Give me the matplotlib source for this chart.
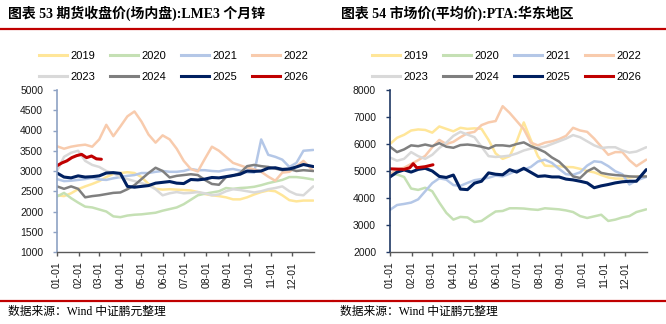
import matplotlib
matplotlib.use("Agg")
import matplotlib.pyplot as plt
from matplotlib.lines import Line2D

# Day-of-year sample points shared by the full-year series
DAYS = list(range(0, 360, 10)) + [364]
MONTH_DAYS = [0, 31, 59, 90, 120, 151, 181, 212, 243, 273, 304, 334]
MONTH_LABELS = ["01-01", "02-01", "03-01", "04-01", "05-01", "06-01",
                "07-01", "08-01", "09-01", "10-01", "11-01", "12-01"]
YEARS = ["2019", "2020", "2021", "2022", "2023", "2024", "2025", "2026"]
COLORS = ["#FFE699", "#C5E0B4", "#B4C7E7", "#F8CBAD",
          "#D9D9D9", "#7F7F7F", "#002060", "#C00000"]
WIDTHS = [1.8, 1.8, 1.8, 1.8, 1.8, 1.8, 2.2, 2.2]

# LME 3-month zinc, USD/t
zinc_2019 = [2400, 2380, 2450, 2550, 2620, 2680, 2750, 2850, 2930, 2950, 2970, 2950,
             2850, 2680, 2560, 2540, 2550, 2540, 2530, 2520, 2480, 2430, 2400, 2380,
             2350, 2300, 2300, 2350, 2420, 2480, 2520, 2500, 2400, 2280, 2250, 2270, 2270]
zinc_2020 = [2370, 2460, 2330, 2220, 2120, 2100, 2050, 2000, 1880, 1860, 1900, 1920,
             1930, 1950, 1970, 2020, 2060, 2100, 2180, 2290, 2400, 2440, 2470, 2500,
             2580, 2560, 2580, 2590, 2610, 2650, 2700, 2740, 2780, 2850, 2850, 2830, 2790]
zinc_2021 = [2800, 2750, 2760, 2780, 2800, 2830, 2790, 2780, 2820, 2850, 2880, 2900,
             2950, 2950, 2980, 3000, 2980, 2980, 3000, 3050, 3020, 3020, 3000, 2990,
             3030, 3050, 3010, 2970, 2960, 3780, 3400, 3350, 3280, 3100, 3200, 3500, 3520]
zinc_2022 = [3610, 3550, 3600, 3630, 3650, 3600, 3780, 4140, 3860, 4100, 4350, 4470,
             4220, 3900, 3700, 3880, 3780, 3550, 3250, 3050, 2990, 3300, 3600, 3500,
             3350, 3200, 3140, 3080, 3040, 2980, 2860, 2760, 2960, 2980, 3110, 3250, 3000]
zinc_2023 = [3000, 3350, 3450, 3500, 3250, 3150, 3100, 3000, 2950, 2850, 2800, 2750,
             2700, 2650, 2550, 2400, 2450, 2480, 2450, 2460, 2480, 2450, 2400, 2420,
             2500, 2550, 2530, 2500, 2470, 2500, 2550, 2580, 2620, 2500, 2420, 2400, 2620]
zinc_2024 = [2620, 2560, 2620, 2560, 2350, 2380, 2400, 2430, 2460, 2470, 2550, 2650,
             2800, 2950, 3080, 3000, 2840, 2880, 2900, 2920, 2900, 2780, 2680, 2660,
             2850, 2880, 2950, 3120, 3150, 3120, 3100, 3060, 3020, 3050, 3000, 3020, 3000]
zinc_2025 = [2950, 2850, 2830, 2880, 2850, 2860, 2880, 2950, 2960, 2940, 2620, 2600,
             2620, 2640, 2700, 2720, 2740, 2700, 2690, 2790, 2780, 2800, 2840, 2830,
             2860, 2890, 2920, 3000, 2990, 3000, 3070, 3080, 3040, 3050, 3100, 3160, 3110]
zinc_2026_days = [0, 7, 14, 21, 28, 35, 42, 49, 56, 63]
zinc_2026 = [3130, 3200, 3250, 3330, 3380, 3410, 3330, 3370, 3300, 3290]

# PTA average market price, East China, CNY/t
pta_2019 = [6000, 6230, 6340, 6500, 6540, 6520, 6420, 6650, 6560, 6470, 6600, 6560,
            6580, 6560, 6150, 5650, 5450, 5550, 6100, 6800, 6150, 5550, 5200, 5180,
            5180, 5150, 5140, 5080, 5000, 4950, 4850, 4760, 4720, 4720, 4760, 4790, 4800]
pta_2020 = [4900, 4870, 4780, 4350, 4300, 4380, 4250, 3830, 3450, 3200, 3300, 3280,
            3110, 3150, 3330, 3500, 3520, 3620, 3620, 3610, 3580, 3560, 3620, 3600,
            3580, 3540, 3480, 3330, 3260, 3320, 3380, 3150, 3200, 3280, 3330, 3480, 3580]
pta_2021 = [3560, 3740, 3780, 3830, 3950, 4250, 4550, 4730, 4680, 4480, 4450, 4560,
            4660, 4700, 4750, 4830, 4800, 4900, 5030, 5050, 5150, 5350, 5420, 5300,
            5080, 4880, 4860, 4950, 5200, 5360, 5330, 5180, 4990, 4880, 4500, 4650, 4780]
pta_2022 = [4880, 5050, 5120, 5260, 5400, 5560, 5880, 6150, 6000, 6080, 6250, 6400,
            6450, 6700, 6800, 6850, 7400, 7150, 6850, 6550, 6050, 5950, 6050, 6100,
            6180, 6300, 6600, 6500, 6450, 6200, 5900, 5600, 5700, 5700, 5400, 5180, 5420]
pta_2023 = [5500, 5380, 5450, 5700, 5550, 5450, 5600, 5850, 6050, 6300, 6450, 6350,
            6250, 5900, 5550, 5520, 5540, 5570, 5650, 5760, 5830, 5860, 5900, 6000,
            6100, 6200, 6330, 6250, 6100, 5950, 5850, 5880, 5880, 5760, 5680, 5720, 5880]
pta_2024 = [5900, 5700, 5800, 5950, 5920, 5980, 5920, 6030, 5900, 5860, 5960, 5980,
            5950, 5900, 5830, 5950, 5950, 5920, 6000, 6060, 5920, 5820, 5700, 5500,
            5350, 5100, 4800, 4740, 4990, 5120, 4930, 4880, 4850, 4830, 4800, 4790, 4800]
pta_2025 = [4780, 4960, 5040, 4960, 5060, 5100, 5000, 4800, 4760, 4850, 4330, 4310,
            4550, 4620, 4930, 4880, 4860, 5050, 4960, 5100, 4950, 4800, 4820, 4780,
            4780, 4700, 4670, 4620, 4560, 4380, 4450, 4500, 4560, 4600, 4620, 4620, 5050]
pta_2026_days = [0, 10, 20, 28, 33, 38, 50, 61]
pta_2026 = [5080, 5070, 5060, 5120, 5270, 5120, 5160, 5230]

W, H = 666, 324
TICK_FONT = "Liberation Sans"
TITLE_FONT = ["Liberation Serif", "Noto Sans CJK SC"]
RED = "#C00000"

fig = plt.figure(figsize=(W / 100, H / 100), dpi=100)


def fx(px):
    return px / W


def fy(py):
    return 1 - py / H


def panel(x_left, series, last_days, ylim, ystep, title, spine_color, legend_x):
    ax = fig.add_axes([fx(x_left), fy(252), fx(257), 162 / H])
    for i, (year, vals) in enumerate(zip(YEARS, series)):
        days = last_days if year == "2026" else DAYS
        ax.plot(days, vals, color=COLORS[i], lw=WIDTHS[i], label=year,
                solid_joinstyle="round", solid_capstyle="round")
    ax.set_xlim(0, 365)
    ax.set_ylim(*ylim)
    ax.set_yticks(list(range(ylim[0], ylim[1] + 1, ystep)))
    ax.set_xticks(MONTH_DAYS)
    ax.set_xticklabels(MONTH_LABELS, rotation=90)
    for side in ("top", "right"):
        ax.spines[side].set_visible(False)
    ax.spines["left"].set_color(spine_color)
    ax.spines["left"].set_linewidth(1.2)
    ax.spines["bottom"].set_color("#595959")
    ax.spines["bottom"].set_linewidth(1.0)
    ax.tick_params(axis="y", direction="out", length=3, width=1, pad=7,
                   colors=spine_color, labelcolor="#1a1a1a", labelsize=7.5)
    ax.tick_params(axis="x", direction="out", length=3, width=1, pad=4,
                   colors="#595959", labelcolor="#1a1a1a", labelsize=7.5)
    for lab in ax.get_xticklabels() + ax.get_yticklabels():
        lab.set_fontfamily(TICK_FONT)

    # legend fills column by column; order entries so rows read 2019..2022, 2023..2026
    order = [0, 4, 1, 5, 2, 6, 3, 7]
    handles = [Line2D([], [], color=COLORS[k], lw=2.2) for k in order]
    labels = [YEARS[k] for k in order]
    fig.legend(handles, labels, loc="upper left",
               bbox_to_anchor=(fx(legend_x), fy(51)), ncol=4, frameon=False,
               prop={"family": TICK_FONT, "size": 8}, borderpad=0,
               handlelength=2.5, handletextpad=0.3, columnspacing=1.35,
               labelspacing=0.95, borderaxespad=0)

    fig.text(fx(x_left - 49), fy(13), title, fontsize=10, fontweight="bold",
             family=TITLE_FONT, va="center", ha="left", color="black")
    return ax


panel(57, [zinc_2019, zinc_2020, zinc_2021, zinc_2022, zinc_2023, zinc_2024,
           zinc_2025, zinc_2026], zinc_2026_days, (1000, 5000), 500,
      "图表 53 期货收盘价(场内盘):LME3 个月锌", "#8EA2C4", 39)
panel(390, [pta_2019, pta_2020, pta_2021, pta_2022, pta_2023, pta_2024,
            pta_2025, pta_2026], pta_2026_days, (2000, 8000), 1000,
      "图表 54 市场价(平均价):PTA:华东地区", "#1F3864", 372)

# Red rules under the titles and above the source notes
for x0, x1 in ((1, 332), (334, 665)):
    fig.add_artist(Line2D([fx(x0), fx(x1)], [fy(29), fy(29)], color=RED, lw=1.6))
    fig.add_artist(Line2D([fx(x0), fx(x1)], [fy(300.5), fy(300.5)], color=RED, lw=1.6))

for x in (8, 340):
    fig.text(fx(x), fy(312), "数据来源：Wind 中证鹏元整理", fontsize=8.5,
             family=TITLE_FONT, va="center", ha="left", color="black")

fig.savefig("out.png", dpi=100)
